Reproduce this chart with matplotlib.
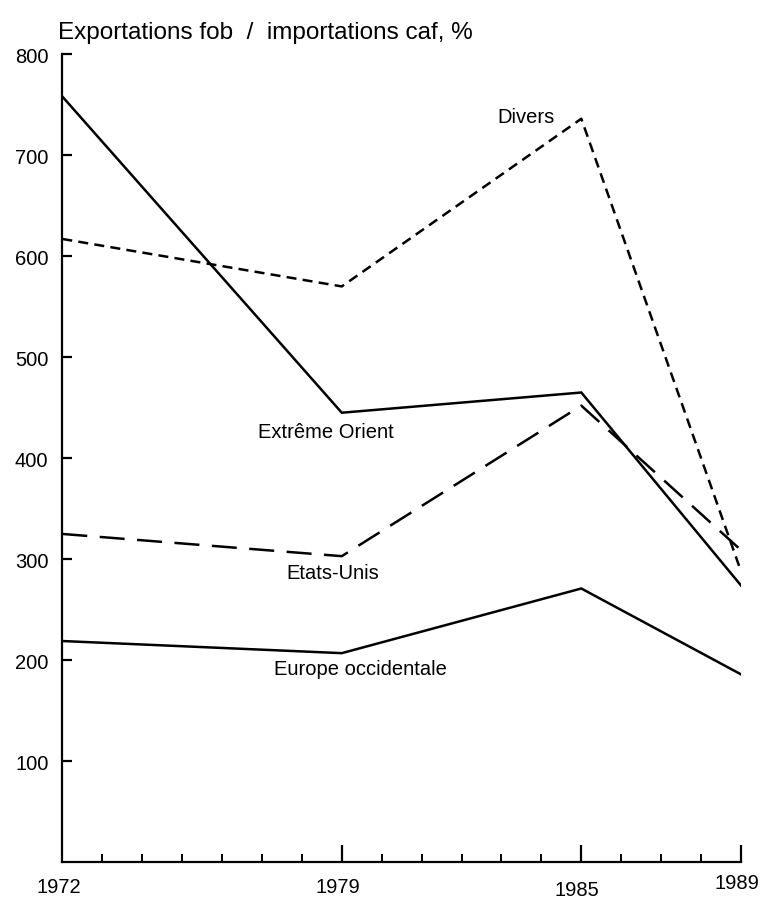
import matplotlib.pyplot as plt
from matplotlib.ticker import MultipleLocator

plt.rcParams['font.family'] = ['Liberation Sans', 'DejaVu Sans']

years = [1972, 1979, 1985, 1989]
extreme_orient = [758, 445, 465, 274]
divers = [617, 570, 736, 288]
etats_unis = [325, 303, 452, 309]
europe = [219, 207, 271, 186]
year_lbls = ['1972', '1979', '1985', '1989']

fig = plt.figure(figsize=(7.6, 9.03), dpi=100)
ax = fig.add_axes([0.082, 0.044, 0.893, 0.895])

lw = 1.8
ax.plot(years, extreme_orient, color='black', lw=lw, solid_joinstyle='miter')
ax.plot(years, europe, color='black', lw=lw, solid_joinstyle='miter')
ax.plot(years, divers, color='black', lw=lw, dashes=(4, 2.5))
ax.plot(years, etats_unis, color='black', lw=lw, dashes=(10, 5))

ax.set_xlim(1972, 1989)
ax.set_ylim(0, 800)
ax.set_xticks(years[1:])
ax.set_xticklabels([])
ax.xaxis.set_minor_locator(MultipleLocator(1))
ax.set_yticks(range(100, 801, 100))

for s in ['top', 'right']:
    ax.spines[s].set_visible(False)
for s in ['left', 'bottom']:
    ax.spines[s].set_linewidth(1.6)

ax.tick_params(axis='y', direction='in', length=7, width=1.6, labelsize=14.5, pad=10)
ax.tick_params(axis='x', which='major', direction='in', length=12, width=1.6)
ax.tick_params(axis='x', which='minor', direction='in', length=6, width=1.4)

# year labels under the axis (slightly uneven, as in the print)
offs = [-24, -24, -27, -20]
for yr, lbl, o in zip(years, year_lbls, offs):
    ax.text(yr - 0.1, o, lbl, ha='center', va='center', fontsize=14.5, clip_on=False)

ax.text(1982.9, 738, 'Divers', fontsize=14.5, ha='left', va='center')
ax.text(1976.9, 426, 'Extrême Orient', fontsize=14.5, ha='left', va='center')
ax.text(1977.6, 287, 'Etats-Unis', fontsize=14.5, ha='left', va='center')
ax.text(1977.3, 192, 'Europe occidentale', fontsize=14.5, ha='left', va='center')

fig.text(0.076, 0.963, 'Exportations fob  /  importations caf, %', fontsize=17.5,
         ha='left', va='center')

fig.savefig('out.png', dpi=100)
